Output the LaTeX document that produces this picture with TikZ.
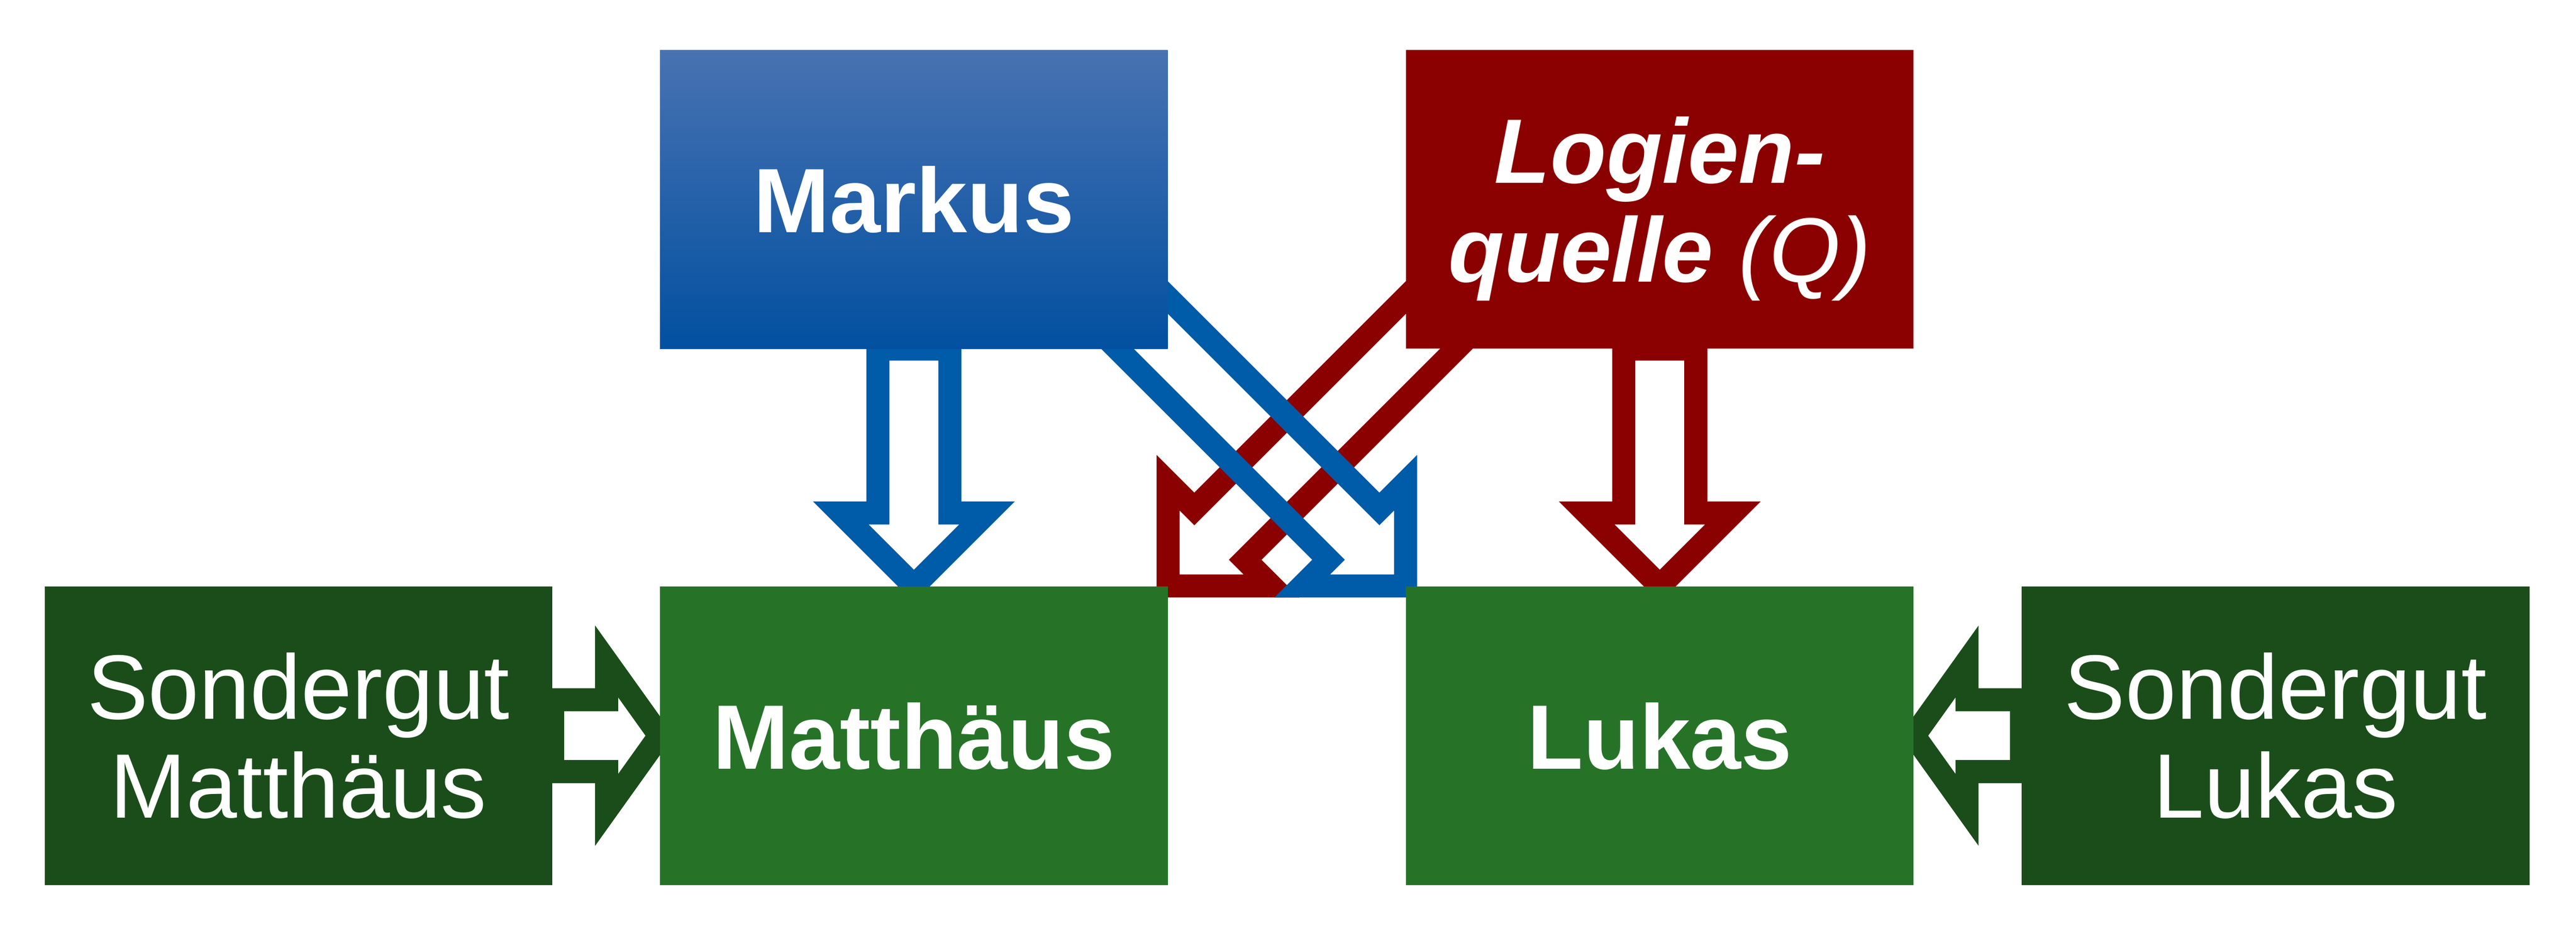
\documentclass[tikz,border=0pt]{standalone}
\usepackage{fontspec}
\setmainfont{Liberation Sans}
\usetikzlibrary{positioning, calc, backgrounds}

\definecolor{markusblue}{RGB}{0,91,168}
\definecolor{markustop}{RGB}{72,114,178}
\definecolor{markusmid}{RGB}{0,91,170}
\definecolor{markusbottom}{RGB}{2,80,160}
\definecolor{logienred}{RGB}{139,0,0}
\definecolor{gospelgreen}{RGB}{38,115,40}
\definecolor{sondergreen}{RGB}{27,77,27}

% hollow block arrow: tip at the origin, shaft along +y
\newcommand{\hollowarrow}[3]{(0,0) -- (-#3,#2) -- (-0.78,#2) -- (-0.78,#1) -- (0.78,#1) -- (0.78,#2) -- (#3,#2) -- cycle}

\begin{document}
\begin{tikzpicture}
	\tikzset{box/.style={minimum width=11.01cm, minimum height=6.48cm, inner sep=0pt, text=white, align=center, font=\fontsize{56.5}{61}\selectfont},
		gospel/.style={box, text depth=0pt, font=\fontsize{56.5}{61}\selectfont\bfseries},
		flow/.style={line width=0.5cm, line join=miter}}
	
	\node[gospel, fill=gospelgreen] (matth) {Matthäus};
	\node[gospel, fill=gospelgreen, right=5.15cm of matth] (lukas) {Lukas};
	\node[gospel, above=5.14cm of matth, top color=markustop, middle color=markusmid, bottom color=markusbottom] (markus) {Markus};
	\node[gospel, fill=logienred, above=5.14cm of lukas] (logien) {\itshape Logien-\\\itshape quelle \mdseries(Q)};
	\node[box, fill=sondergreen, left=2.32cm of matth] (sgmatth) {Sondergut\\Matthäus};
	\node[box, fill=sondergreen, right=2.33cm of lukas] (sglukas) {Sondergut\\Lukas};
	
	\useasboundingbox ($(sgmatth.west |- markus.north)+(-0.96,1.08)$) rectangle ($(sglukas.east |- matth.south)+(1,-1.03)$);
	
	% arrows behind the boxes
	\begin{scope}[on background layer]
		\draw[flow, logienred, shift={(matth.north east)}, rotate=-45] \hollowarrow{9}{1.585}{1.585};
		\draw[flow, markusblue, shift={(lukas.north west)}, rotate=45] \hollowarrow{9}{1.585}{1.585};
		\draw[flow, markusblue, shift={(matth.north)}] \hollowarrow{5.14}{1.585}{1.585};
		\draw[flow, logienred, shift={(lukas.north)}] \hollowarrow{5.14}{1.585}{1.585};
		\draw[flow, sondergreen, shift={(matth.west)}, rotate=90] \hollowarrow{2.32}{1.15}{1.61};
		\draw[flow, sondergreen, shift={(lukas.east)}, rotate=-90] \hollowarrow{2.33}{1.15}{1.61};
	\end{scope}
\end{tikzpicture}
\end{document}
